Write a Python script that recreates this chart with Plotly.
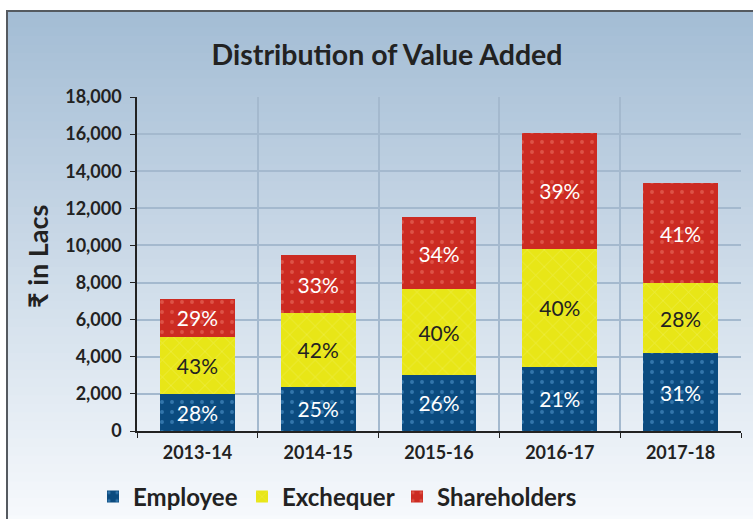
import plotly.graph_objects as go

# Data
years = ["2013-14", "2014-15", "2015-16", "2016-17", "2017-18"]
employee = [2000, 2380, 3020, 3450, 4200]
exchequer = [3060, 3980, 4620, 6380, 3750]
shareholders = [2060, 3100, 3880, 6250, 5430]
employee_pct = ["28%", "25%", "26%", "21%", "31%"]
exchequer_pct = ["43%", "42%", "40%", "40%", "28%"]
shareholders_pct = ["29%", "33%", "34%", "39%", "41%"]
y_ticks = [0, 2000, 4000, 6000, 8000, 10000, 12000, 14000, 16000, 18000]

W, H = 753, 519
L, R, T, B = 137, 12, 97, 88
PW, PH = W - L - R, H - T - B

def px_x(px):
    return (px - L) / PW

def px_y(py):
    return (H - B - py) / PH

FONT = "Lato, 'Open Sans', 'DejaVu Sans', sans-serif"

fig = go.Figure()

fig.add_trace(go.Bar(
    x=years, y=employee, name="<b>Employee</b>", text=employee_pct, legend="legend",
    marker=dict(color="#0b4b7f", line_width=0,
                pattern=dict(shape=".", fgcolor="#5aa0d8", size=10, solidity=0.12, fillmode="overlay")),
    textfont=dict(color="white", size=21, family=FONT),
))
fig.add_trace(go.Bar(
    x=years, y=exchequer, name="<b>Exchequer</b>", text=exchequer_pct, legend="legend2",
    marker=dict(color="#e8e617", line_width=0,
                pattern=dict(shape="x", fgcolor="#f6f48a", size=12, solidity=0.1, fillmode="overlay")),
    textfont=dict(color="#222222", size=21, family=FONT),
))
fig.add_trace(go.Bar(
    x=years, y=shareholders, name="<b>Shareholders</b>", text=shareholders_pct, legend="legend3",
    marker=dict(color="#cc2b22", line_width=0,
                pattern=dict(shape=".", fgcolor="#ee7a6a", size=10, solidity=0.12, fillmode="overlay")),
    textfont=dict(color="white", size=21, family=FONT),
))

fig.update_traces(textposition="inside", insidetextanchor="middle", cliponaxis=False)

# gradient background + frame
shapes = []
n = 60
top, bottom = 10, H + 5
c0 = (164, 189, 213)
c1 = (247, 250, 253)
for i in range(n):
    y0 = top + (bottom - top) * i / n
    y1 = top + (bottom - top) * (i + 1) / n + 1
    t = i / (n - 1)
    c = tuple(int(c0[k] + (c1[k] - c0[k]) * t) for k in range(3))
    shapes.append(dict(type="rect", xref="paper", yref="paper",
                       x0=px_x(6), x1=px_x(W + 10), y0=px_y(y1), y1=px_y(y0),
                       fillcolor="rgb(%d,%d,%d)" % c, line_width=0, layer="below"))
shapes.append(dict(type="rect", xref="paper", yref="paper",
                   x0=px_x(7), x1=px_x(W + 10), y0=px_y(H + 10), y1=px_y(11),
                   line=dict(color="#555a60", width=2), fillcolor="rgba(0,0,0,0)", layer="above"))

leg = dict(orientation="h", xanchor="left", y=px_y(497), yanchor="middle",
           font=dict(family=FONT, size=24, color="#222222"),
           bgcolor="rgba(0,0,0,0)", itemwidth=30)

fig.update_layout(
    width=W, height=H,
    margin=dict(l=L, r=R, t=T, b=B, autoexpand=False),
    paper_bgcolor="white",
    plot_bgcolor="rgba(0,0,0,0)",
    barmode="stack",
    bargap=0.38,
    shapes=shapes,
    title=dict(text="<b>Distribution of Value Added</b>", x=0.514, xanchor="center",
               y=1 - 55 / H, yanchor="middle",
               font=dict(family=FONT, size=28.5, color="#222222")),
    font=dict(family=FONT, color="#222222"),
    showlegend=True,
    legend=dict(leg, x=px_x(93)),
    legend2=dict(leg, x=px_x(242)),
    legend3=dict(leg, x=px_x(397)),
    xaxis=dict(
        type="category", tickson="boundaries", automargin=False,
        showgrid=True, gridcolor="#a4b9ce", gridwidth=2,
        showline=True, linecolor="#222222", linewidth=1.5,
        ticks="outside", ticklen=5, tickcolor="#222222",
        tickfont=dict(family=FONT, size=18, color="#222222", weight="bold"),
        ticklabelstandoff=5,
    ),
    yaxis=dict(
        range=[0, 18000], tickvals=y_ticks, tickformat=",d", automargin=False,
        showgrid=True, gridcolor="#a4b9ce", gridwidth=2,
        showline=True, linecolor="#222222", linewidth=1.5,
        ticks="outside", ticklen=5, tickcolor="#222222",
        tickfont=dict(family=FONT, size=18, color="#222222", weight="bold"),
        ticklabelstandoff=5,
        zeroline=False,
    ),
    annotations=[dict(text="<b>₹ in Lacs</b>", xref="paper", yref="paper",
                      x=px_x(37), y=px_y(256), xanchor="center", yanchor="middle",
                      textangle=-90, showarrow=False,
                      font=dict(family=FONT, size=27, color="#222222"))],
)

fig.write_html("out.html", post_script="document.body.style.margin='0';",
               config={"displayModeBar": False})
